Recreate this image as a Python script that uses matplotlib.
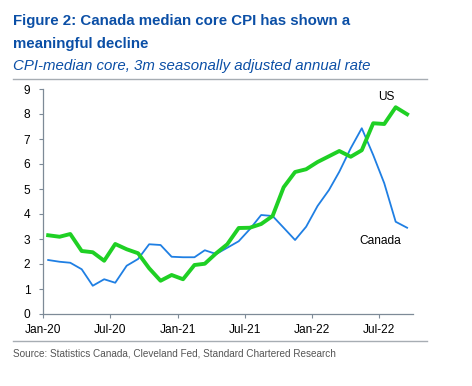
import numpy as np
import pandas as pd
import matplotlib
matplotlib.use("Agg")
import matplotlib.pyplot as plt
import matplotlib.dates as mdates
from matplotlib.lines import Line2D

plt.rcParams['font.family'] = ['Liberation Sans', 'DejaVu Sans']

# monthly readings, Jan-20 .. Sep-22
months = pd.date_range("2020-01-01", periods=33, freq="MS") + pd.Timedelta(days=14)

us = [3.15, 3.09, 3.20, 2.52, 2.47, 2.13, 2.80, 2.59, 2.43, 1.83, 1.33, 1.56,
      1.39, 1.96, 2.01, 2.43, 2.79, 3.44, 3.45, 3.60, 3.92, 5.07, 5.68, 5.79,
      6.08, 6.31, 6.52, 6.29, 6.55, 7.63, 7.60, 8.27, 7.99]
canada = [2.16, 2.09, 2.05, 1.79, 1.13, 1.39, 1.25, 1.93, 2.20, 2.79, 2.76, 2.29,
          2.27, 2.27, 2.55, 2.40, 2.65, 2.91, 3.39, 3.96, 3.92, 3.45, 2.96, 3.49,
          4.32, 4.96, 5.69, 6.63, 7.43, 6.36, 5.23, 3.69, 3.45]

tick_dates = pd.date_range("2020-01-01", "2022-07-01", freq="6MS")
tick_labels = ["Jan-20", "Jul-20", "Jan-21", "Jul-21", "Jan-22", "Jul-22"]

navy = "#0b4fa6"
axis_col = "#7d8a97"

fig = plt.figure(figsize=(4.72, 3.86), dpi=100)
ax = fig.add_axes([43/472, 1 - 314/386, 370/472, 225/386])

ax.plot(months, canada, color="#1f7fe3", lw=1.3)
ax.plot(months, us, color="#1fd024", lw=2.8)

ax.set_xlim(pd.Timestamp("2020-01-01"), pd.Timestamp("2022-10-01"))
ax.set_ylim(0, 9)
ax.set_yticks(range(10))
ax.set_xticks(tick_dates)
ax.set_xticklabels(tick_labels)
ax.tick_params(axis="both", labelsize=8.6, colors=axis_col, labelcolor="black",
               length=3, width=0.8)
ax.tick_params(axis="x", pad=4)
ax.tick_params(axis="y", pad=6)
for s in ["top", "right"]:
    ax.spines[s].set_visible(False)
for s in ["left", "bottom"]:
    ax.spines[s].set_color(axis_col)
    ax.spines[s].set_linewidth(0.9)

ax.text(pd.Timestamp("2022-07-20"), 8.7, "US", fontsize=8.6, ha="center", va="center")
ax.text(pd.Timestamp("2022-07-05"), 2.9, "Canada", fontsize=8.6, ha="center", va="center")

fig.text(13/472, 1 - 21/386, "Figure 2: Canada median core CPI has shown a",
         fontsize=10.8, fontweight="bold", color=navy, va="center")
fig.text(13/472, 1 - 44/386, "meaningful decline",
         fontsize=10.8, fontweight="bold", color=navy, va="center")
fig.text(13/472, 1 - 66/386, "CPI-median core, 3m seasonally adjusted annual rate",
         fontsize=10.8, style="italic", color=navy, va="center")

fig.add_artist(Line2D([13/472, 427/472], [1 - 79/386, 1 - 79/386],
                      color="#a7adb3", lw=1.0))
fig.add_artist(Line2D([13/472, 427/472], [1 - 341/386, 1 - 341/386],
                      color="#a7adb3", lw=1.0))
fig.text(13/472, 1 - 353/386,
         "Source: Statistics Canada, Cleveland Fed, Standard Chartered Research",
         fontsize=7.2, color="#555555", va="center")

fig.savefig("out.png", dpi=100)
